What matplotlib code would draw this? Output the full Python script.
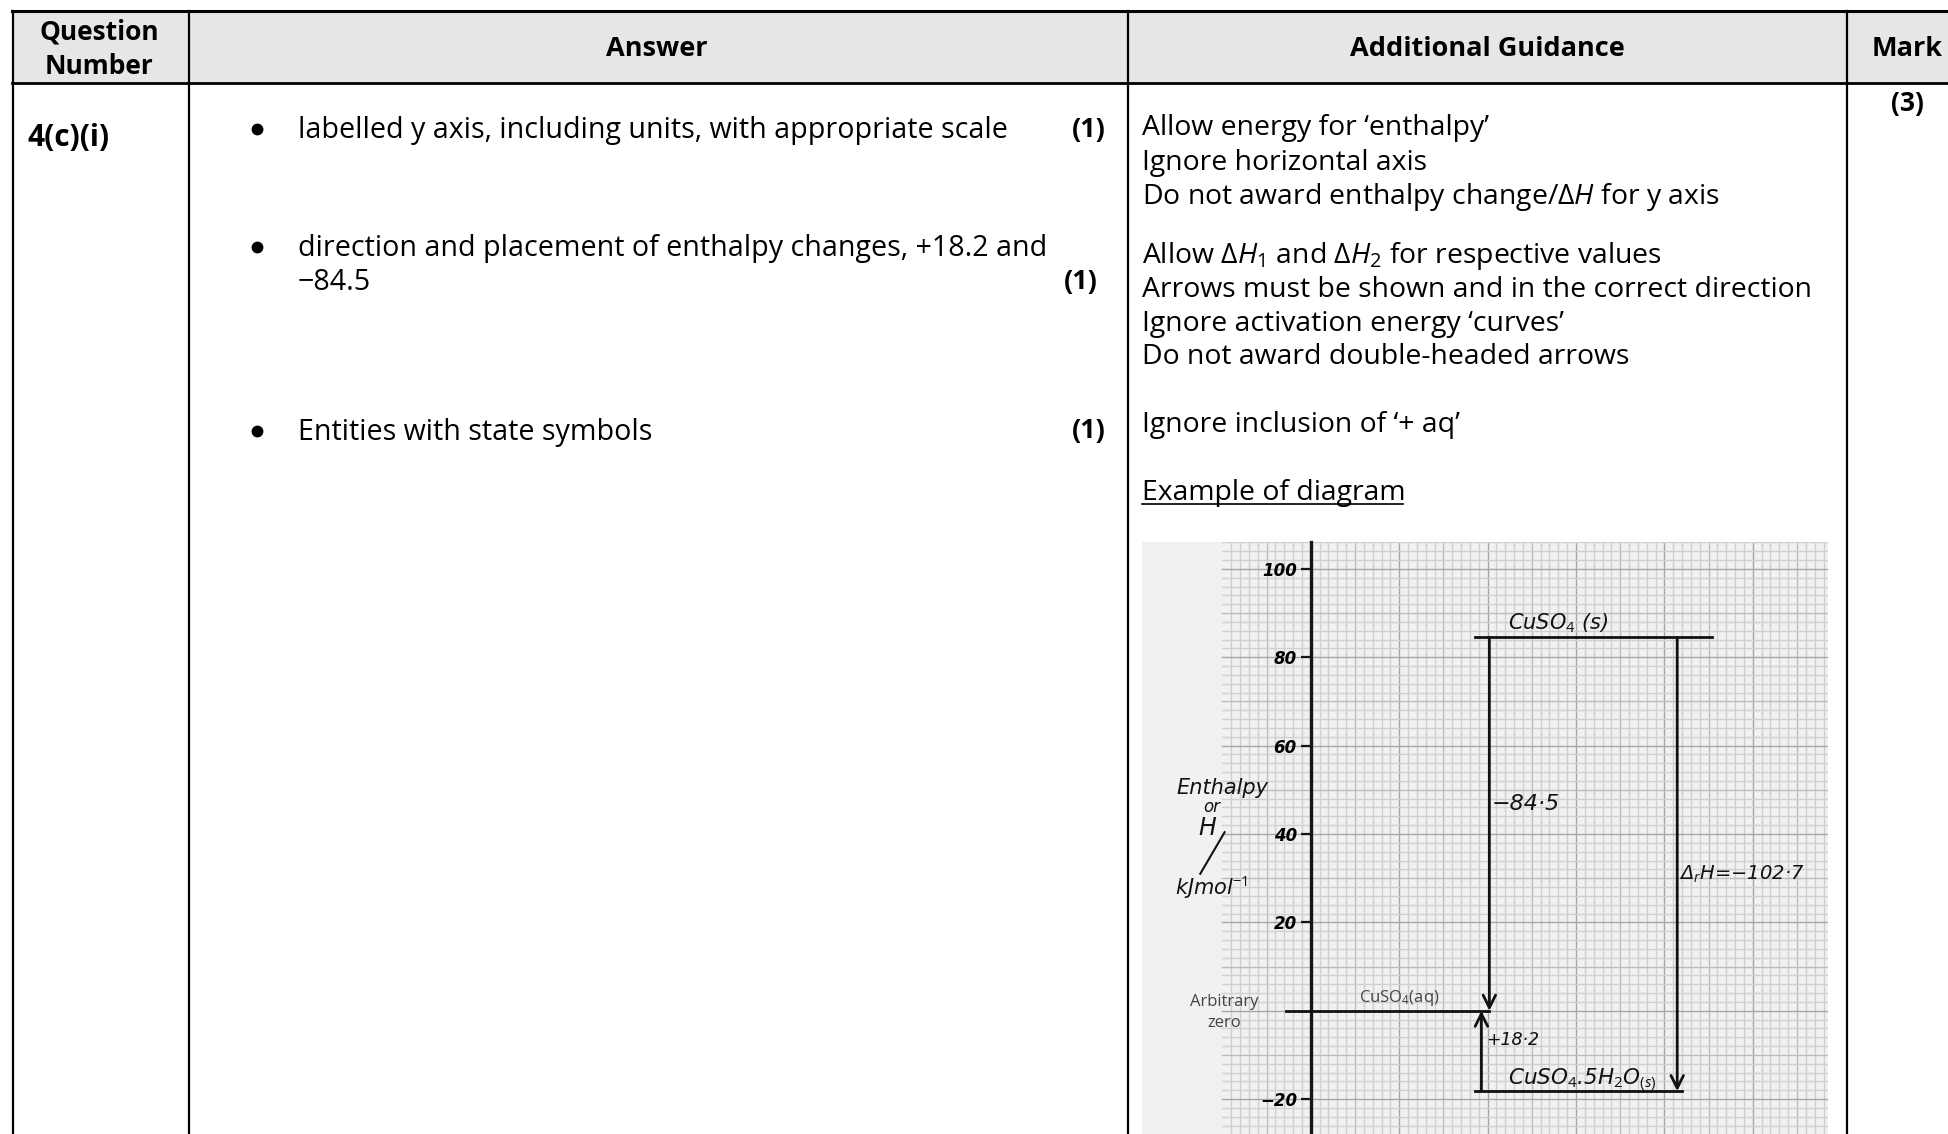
import numpy as np
import matplotlib
matplotlib.use("Agg")
import matplotlib.pyplot as plt

W, H = 1948, 1134
FONT = "Open Sans"
HAND = "DejaVu Sans"

plt.rcParams["font.family"] = [FONT, "DejaVu Sans"]
plt.rcParams["mathtext.fontset"] = "custom"
plt.rcParams["mathtext.rm"] = FONT
plt.rcParams["mathtext.it"] = FONT + ":italic"
plt.rcParams["mathtext.bf"] = FONT + ":bold"

# table text
headers = ["Answer", "Additional Guidance", "Mark"]
question = "4(c)(i)"
answers = ["labelled y axis, including units, with appropriate scale",
           "direction and placement of enthalpy changes, +18.2 and",
           "\u221284.5",
           "Entities with state symbols"]
guidance = ["Allow energy for \u2018enthalpy\u2019",
            "Ignore horizontal axis",
            "Do not award enthalpy change/\u0394$\\mathit{H}$ for y axis",
            "Allow \u0394$\\mathit{H}_{1}$ and \u0394$\\mathit{H}_{2}$ for respective values",
            "Arrows must be shown and in the correct direction",
            "Ignore activation energy \u2018curves\u2019",
            "Do not award double-headed arrows",
            "Ignore inclusion of \u2018+ aq\u2019",
            "Example of diagram"]

# enthalpy diagram values
y_ticks = [100, 80, 60, 40, 20, -20]
level_solid = 84.5
level_aq = 0
level_hydrate = -18.2

fig = plt.figure(figsize=(W / 100, H / 100), dpi=100, facecolor="white")

# page axes, in pixels of the picture
page = fig.add_axes([0, 0, 1, 1])
page.set_xlim(0, W)
page.set_ylim(H, 0)
page.axis("off")

page.fill_between([12, W], 11, 83, color="#e6e6e6", lw=0)
page.plot([12, W], [11, 11], color="black", lw=2.2)
page.plot([12, W], [83, 83], color="black", lw=2.0)
for x in [12.5, 188.5, 1127.5, 1847]:
    page.plot([x, x], [11, H], color="black", lw=1.6)

page.text(99, 32, "Question", ha="center", va="center", fontsize=19, weight="bold")
page.text(99, 67, "Number", ha="center", va="center", fontsize=19, weight="bold")
for label, x in zip(headers, [657, 1487, 1907]):
    page.text(x, 49, label, ha="center", va="center", fontsize=19.5, weight="bold")

page.text(27, 138, question, ha="left", va="center", fontsize=21.5, weight="bold")
page.text(1907, 104, "(3)", ha="center", va="center", fontsize=19, weight="bold")

for label, y in zip(answers, [138, 256, 290, 440]):
    page.text(298, y, label, ha="left", va="baseline", fontsize=20.6)
for y in [129, 247, 431]:
    page.plot([257], [y], "o", color="black", ms=7.5)
for x, y in zip([1088.5, 1081, 1088.5], [130, 282, 431]):
    page.text(x, y, "(1)", ha="center", va="center", fontsize=19.5, weight="bold")

for label, y in zip(guidance, [135, 170, 204, 263, 297, 331, 364, 432, 500]):
    page.text(1142, y, label, ha="left", va="baseline", fontsize=20.4)
page.plot([1142, 1403], [504, 504], color="black", lw=1.2)

# graph paper, 1 unit = 4.42 px both ways
ax = fig.add_axes([1141.5 / W, 0, 686 / W, 592.5 / H])
ax.set_xlim(-38.3, 116.9)
ax.set_ylim(-27.9, 106.2)
ax.set_facecolor("#f1f1f1")

for v in np.arange(-18, 118, 2):
    c = "#a6a6a6" if v % 20 == 0 else "#bcbcbc" if v % 10 == 0 else "#d0d0d0"
    ax.axvline(v, color=c, lw=1.0, zorder=1)
for v in np.arange(-26, 108, 2):
    c = "#a6a6a6" if v % 20 == 0 else "#bcbcbc" if v % 10 == 0 else "#d0d0d0"
    ax.plot([-20, 117], [v, v], color=c, lw=1.0, zorder=1)

for side in ["top", "right", "bottom"]:
    ax.spines[side].set_visible(False)
ax.spines["left"].set_position(("data", 0))
ax.spines["left"].set_linewidth(2.4)
ax.spines["left"].set_color("#151515")
ax.spines["left"].set_zorder(3)
ax.set_xticks([])
ax.set_yticks(y_ticks)
ax.set_yticklabels([str(v).replace("-", "\u2212") for v in y_ticks], family=HAND, fontsize=12, style="oblique", weight="bold")
ax.tick_params(axis="y", length=7, width=1.6, pad=3, color="#151515", zorder=3)

# levels
ax.plot([37.2, 90.8], [level_solid, level_solid], color="#111111", lw=2.0, zorder=4)
ax.plot([-5.5, 40.4], [level_aq, level_aq], color="#111111", lw=2.0, zorder=4)
ax.plot([37.2, 83.9], [level_hydrate, level_hydrate], color="#111111", lw=2.0, zorder=4)

# arrows
arrow = dict(arrowstyle="->,head_length=0.9,head_width=0.45", color="#111111", lw=2.0, shrinkA=0, shrinkB=0)
ax.annotate("", xy=(40.4, level_aq), xytext=(40.4, level_solid), arrowprops=arrow, zorder=4)
ax.annotate("", xy=(38.6, level_aq), xytext=(38.6, level_hydrate), arrowprops=arrow, zorder=4)
ax.annotate("", xy=(82.9, level_hydrate), xytext=(82.9, level_solid), arrowprops=arrow, zorder=4)

# handwritten labels
hand = dict(family=HAND, style="oblique", color="#111111", zorder=5)
ax.text(56, 87.6, "CuSO$_{4}$ (s)", ha="center", va="center", fontsize=15, **hand)
ax.text(41, 46.7, "\u221284\u00b75", ha="left", va="center", fontsize=16, **hand)
ax.text(83.3, 31, "\u0394$_{r}$H=\u2212102\u00b77", ha="left", va="center", fontsize=14, **hand)
ax.text(39.6, -6.7, "+18\u00b72", ha="left", va="center", fontsize=12.5, **hand)
ax.text(61.5, -15.8, "CuSO$_{4}$.5H$_{2}$O$_{(s)}$", ha="center", va="center", fontsize=15.5, **hand)
ax.text(-20, 50.3, "Enthalpy", ha="center", va="center", fontsize=15, **hand)
ax.text(-22.5, 46.2, "or", ha="center", va="center", fontsize=12, **hand)
ax.text(-23.5, 41.3, "H", ha="center", va="center", fontsize=17, **hand)
ax.text(-22.5, 28, "kJmol$^{-1}$", ha="center", va="center", fontsize=15, **hand)
ax.plot([-19.5, -25], [40.4, 31], color="#111111", lw=1.5, zorder=5)

# printed grey labels
ax.text(-19.5, 1.9, "Arbitrary", ha="center", va="center", fontsize=12, color="#444444", zorder=5)
ax.text(-19.5, -2.8, "zero", ha="center", va="center", fontsize=12, color="#444444", zorder=5)
ax.text(20, 2.9, "CuSO$_{4}$(aq)", ha="center", va="center", fontsize=12, color="#444444", zorder=5)

fig.savefig("out.png", dpi=100)
